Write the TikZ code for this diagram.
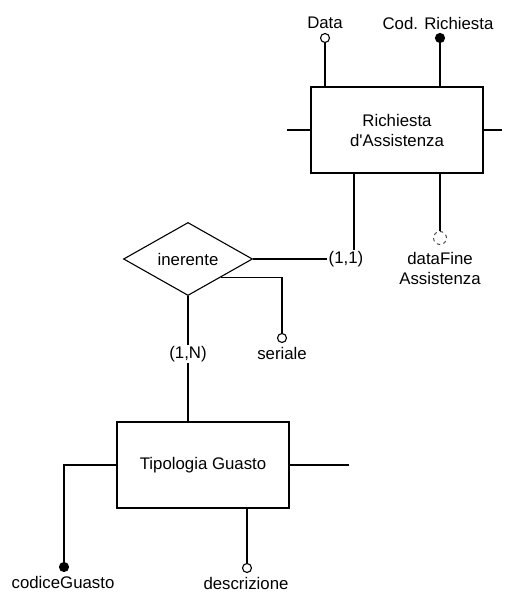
\documentclass[tikz,border=0pt]{standalone}
\usepackage{fontspec}
\setmainfont{Liberation Sans}
\usetikzlibrary{shapes.geometric}

\tikzset{
	entita/.style={draw, rectangle, minimum width=172pt, minimum height=86pt, align=center, inner sep=0pt},
	relazione/.style={draw, diamond, minimum width=129pt, minimum height=72pt, inner sep=0pt},
	attributo/.style={draw, circle, fill=white, minimum size=9pt, inner sep=0pt},
	chiave/.style={attributo, fill=black},
	opzionale/.style={attributo, minimum size=13pt, draw=black!75, line width=0.9pt, dash pattern=on 3.4pt off 3.4pt},
	cardinalita/.style={inner sep=1pt}
}

\begin{document}
\begin{tikzpicture}[x=1pt, y=-1pt, line width=1.1pt, every node/.append style={font=\fontsize{16.8}{20}\selectfont}]
			%%%%% START %%%%%
			\useasboundingbox (0, 0) rectangle (527, 609);
			
			\node[entita] (richiesta) at (397, 130) {Richiesta\\d\textquotesingle Assistenza};
			\coordinate (richiestaL) at (287, 130);
			\coordinate (richiestaR) at (502, 130);
			\draw (richiesta.west) -- (richiestaL);
			\draw (richiesta.east) -- (richiestaR);
			
			\node[attributo] (data) at (325, 38) {};
			\node (dataTxt) at (325, 23) {Data};
			\draw (data |- richiesta.north) -- (data);
			
			\node[chiave] (codRich) at (440, 38) {};
			\node (codRichTxt) at (438, 23) {Cod. Richiesta};
			\draw (codRich |- richiesta.north) -- (codRich);
			
			\node[opzionale] (dataFine) at (440, 238) {};
			\node[align=center] (dataFineTxt) at (440, 268) {dataFine\\Assistenza};
			\draw (dataFine |- richiesta.south) -- (dataFine);
			
			\node[relazione] (inerente) at (188, 259) {inerente};
			\node[cardinalita] (card11) at (346, 259) {(1,1)};
			\draw (inerente.east) -- (card11.west);
			\draw ([xshift=-43pt]richiesta.south) -- ([xshift=-43pt]richiesta.south |- card11.north);
			
			\node[attributo] (seriale) at (282, 338) {};
			\node (serialeTxt) at (282, 353) {seriale};
			\draw (inerente.south east) -| (seriale);
			
			\node[cardinalita] (card1N) at (188, 354) {(1,N)};
			\draw (inerente.south) -- (card1N.north);
			
			\node[entita] (tipologia) at (203, 465) {Tipologia Guasto};
			\coordinate (tipologiaR) at (349, 465);
			\draw (card1N.south) -- (card1N.south |- tipologia.north);
			\draw (tipologia.east) -- (tipologiaR);
			
			\node[chiave] (codGuasto) at (64, 567) {};
			\node (codGuastoTxt) at (63, 582) {codiceGuasto};
			\draw (tipologia.west) -| (codGuasto);
			
			\node[attributo] (descr) at (247, 568) {};
			\node (descrTxt) at (246, 583) {descrizione};
			\draw (descr |- tipologia.south) -- (descr);
			
			%%%%% END %%%%%
\end{tikzpicture}
\end{document}
